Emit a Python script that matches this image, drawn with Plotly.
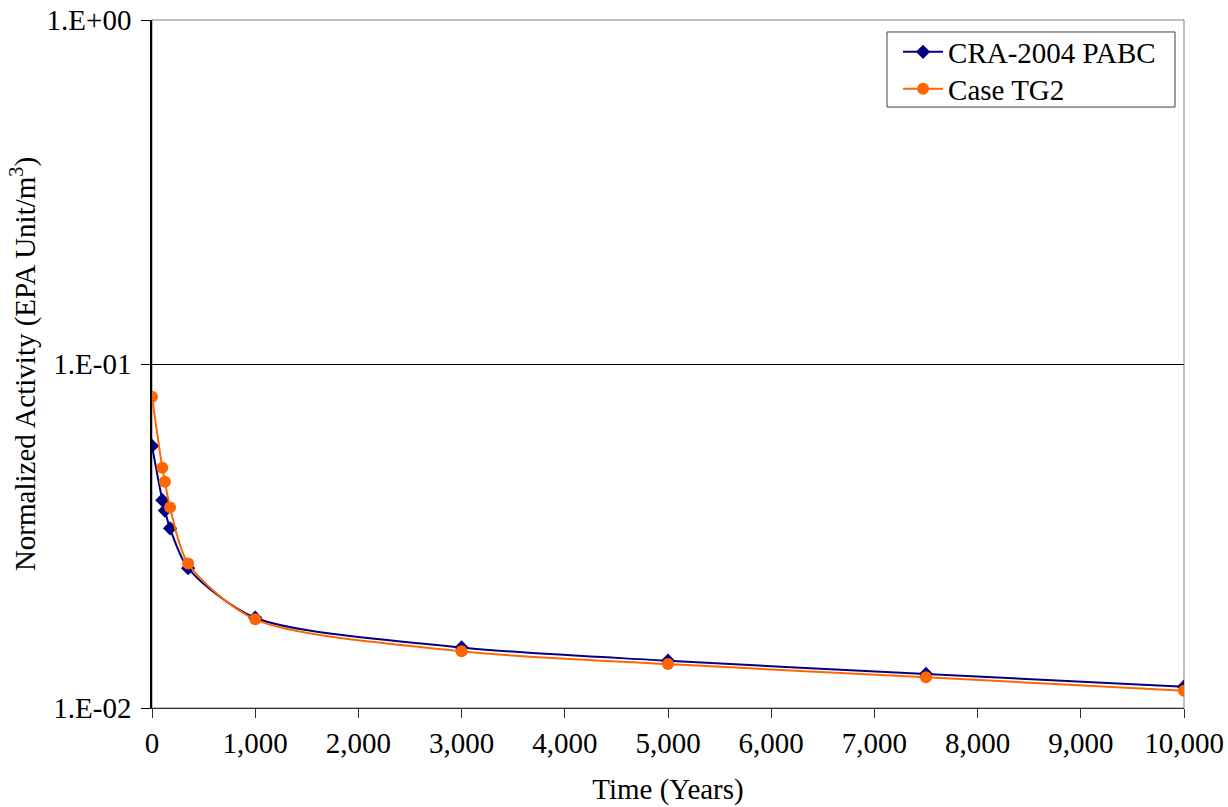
import plotly.graph_objects as go

years = [0, 100, 125, 175, 350, 1000, 3000, 5000, 7500, 10000]
cra2004_pabc = [0.0578, 0.0402, 0.0375, 0.0333, 0.0255, 0.0183, 0.0150, 0.01372, 0.01256, 0.01153]
case_tg2 = [0.0803, 0.0499, 0.0455, 0.0383, 0.0263, 0.0181, 0.01462, 0.01342, 0.01228, 0.01123]

y_tickvals = [0.01, 0.1, 1]
y_ticktext = ["1.E-02", "1.E-01", "1.E+00"]
x_tickvals = list(range(0, 10001, 1000))

FONT = "Liberation Serif, Times New Roman, serif"
FS = 29

fig = go.Figure()
fig.add_trace(go.Scatter(
    x=years, y=cra2004_pabc, name="CRA-2004 PABC", mode="lines+markers",
    line=dict(color="#000080", width=2, shape="spline", smoothing=0.8),
    marker=dict(symbol="diamond", size=11, color="#000080"),
    legend="legend",
))
fig.add_trace(go.Scatter(
    x=years, y=case_tg2, name="Case TG2", mode="lines+markers",
    line=dict(color="#FF6600", width=2, shape="spline", smoothing=0.8),
    marker=dict(symbol="circle", size=12, color="#FF6600"),
    legend="legend2",
))

# plot-area border
fig.add_shape(type="rect", xref="paper", yref="paper", x0=0, x1=1, y0=0, y1=1,
              line=dict(color="#808080", width=1), layer="between")
# legend frame
fig.add_shape(type="rect", xref="paper", yref="paper", x0=0.7122, x1=0.9913, y0=0.8735, y1=0.9826,
              line=dict(color="#404040", width=1), fillcolor="white", layer="above")

leg_common = dict(
    xanchor="left", yanchor="middle", bgcolor="rgba(0,0,0,0)", borderwidth=0,
    font=dict(family=FONT, size=FS, color="black"), itemwidth=40,
)

fig.update_layout(
    width=1228, height=807,
    margin=dict(l=152, r=44, t=20, b=99),
    paper_bgcolor="white", plot_bgcolor="white",
    font=dict(family=FONT, size=FS, color="black"),
    showlegend=True,
    legend=dict(x=0.7229, y=0.9535, **leg_common),
    legend2=dict(x=0.7229, y=0.8997, **leg_common),
    xaxis=dict(
        range=[0, 10000], tickvals=x_tickvals, tickformat=",",
        showgrid=False, zeroline=False, automargin=False, ticklabeloverflow="allow",
        showline=True, linecolor="#303030", linewidth=1,
        ticks="outside", ticklen=9, tickcolor="#303030",
        title=dict(text="Time (Years)", font=dict(family=FONT, size=FS), standoff=20),
    ),
    yaxis=dict(
        type="log", range=[-2, 0], tickvals=y_tickvals, ticktext=y_ticktext,
        showgrid=True, gridcolor="black", gridwidth=1, zeroline=False, automargin=False,
        ticklabeloverflow="allow",
        showline=True, linecolor="black", linewidth=1.5,
        ticks="outside", ticklen=9, tickcolor="black",
        ticklabelstandoff=4,
        title=dict(text="Normalized Activity (EPA Unit/m<sup>3</sup>)",
                   font=dict(family=FONT, size=FS), standoff=2),
    ),
)

fig.write_html(
    "out.html",
    config={"displayModeBar": False},
    post_script="document.body.style.margin='0';document.body.style.overflow='hidden';",
)
